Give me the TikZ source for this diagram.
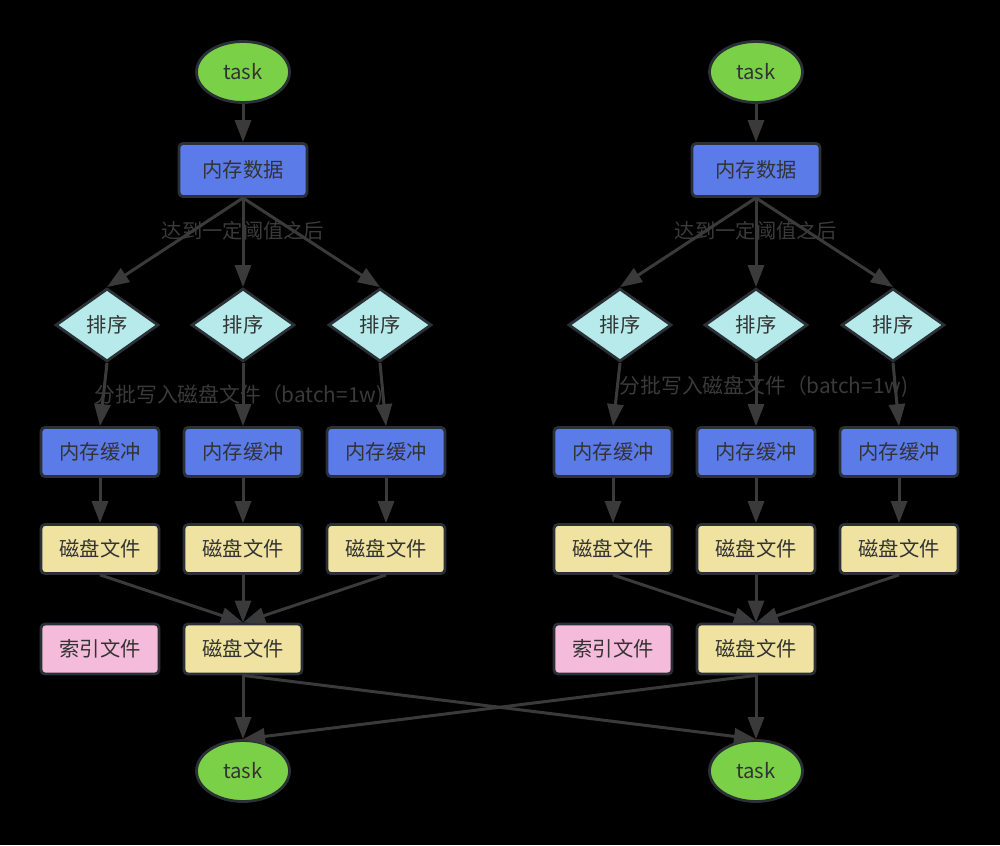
\documentclass[tikz,border=0pt]{standalone}
\usepackage{fontspec}
\setmainfont{Noto Sans CJK SC}
\usetikzlibrary{arrows.meta,positioning,shapes.geometric}
\definecolor{taskgreen}{HTML}{7AD147}
\definecolor{memblue}{HTML}{5B7BE8}
\definecolor{sortcyan}{HTML}{B7EBEB}
\definecolor{fileyellow}{HTML}{F0E3A2}
\definecolor{idxpink}{HTML}{F5BBDB}
\definecolor{rimgray}{HTML}{2B3036}
\definecolor{linegray}{HTML}{3A3A3A}
\definecolor{txtgray}{HTML}{333333}

\begin{document}
\begin{tikzpicture}[x=1pt,y=-1pt,
    font=\fontsize{20.3}{24}\selectfont, text=txtgray,
    base/.style={draw=rimgray, line width=2.8pt, inner sep=0pt},
    taskoval/.style={base, ellipse, fill=taskgreen, minimum width=93pt, minimum height=61pt},
    membox/.style={base, rounded corners=4pt, fill=memblue, minimum width=118pt, minimum height=49pt},
    filebox/.style={base, rounded corners=4pt, fill=fileyellow, minimum width=118pt, minimum height=49pt},
    idxbox/.style={base, rounded corners=4pt, fill=idxpink, minimum width=118pt, minimum height=50pt},
    sortdia/.style={base, diamond, fill=sortcyan, minimum width=103pt, minimum height=73pt},
    note/.style={text=linegray, inner sep=0pt},
    flow/.style={draw=linegray, line width=3pt, -{Triangle[length=22pt,width=16pt]}}]
    \fill[black] (0,0) rectangle (1000,845);
    \foreach \g/\dx/\ly/\lx in {l/0/396/239, r/513/387/251} {
        \node[taskoval] (\g-start) at (\dx+243,72) {task};
        \node[membox, minimum width=128pt, minimum height=53pt] (\g-data) at (\dx+243,170) {内存数据};
        \draw[flow] (\g-start) -- (\g-data);
        \node[note] (\g-lbla) at (\dx+243,231) {达到一定阈值之后};
        \node[note, font=\fontsize{20.8}{24}\selectfont] (\g-lblb) at (\dx+\lx,\ly) {分批写入磁盘文件（batch=1w)};
        \foreach \i/\sx/\bx in {1/107/100, 2/243/243, 3/380/386} {
            \node[sortdia] (\g-sort\i) at (\dx+\sx,325) {排序};
            \node[membox] (\g-buf\i) at (\dx+\bx,452) {内存缓冲};
            \node[filebox] (\g-file\i) at (\dx+\bx,549) {磁盘文件};
            \draw[flow] (\g-data.south) -- (\g-sort\i.north);
            \draw[flow] (\g-sort\i.south) -- (\g-buf\i.north);
            \draw[flow] (\g-buf\i) -- (\g-file\i);
        }
        \node[idxbox] (\g-index) at (\dx+100,649) {索引文件};
        \node[filebox, minimum height=50pt] (\g-merge) at (\dx+243,649) {磁盘文件};
        \foreach \i in {1,2,3}
            \draw[flow] (\g-file\i.south) -- (\g-merge.north);
        \node[taskoval] (\g-end) at (\dx+243,771) {task};
        \draw[flow] (\g-merge) -- (\g-end);
    }
    % merged files feed the other task as well
    \draw[flow] (l-merge.south) -- (r-end.north);
    \draw[flow] (r-merge.south) -- (l-end.north);
\end{tikzpicture}
\end{document}
